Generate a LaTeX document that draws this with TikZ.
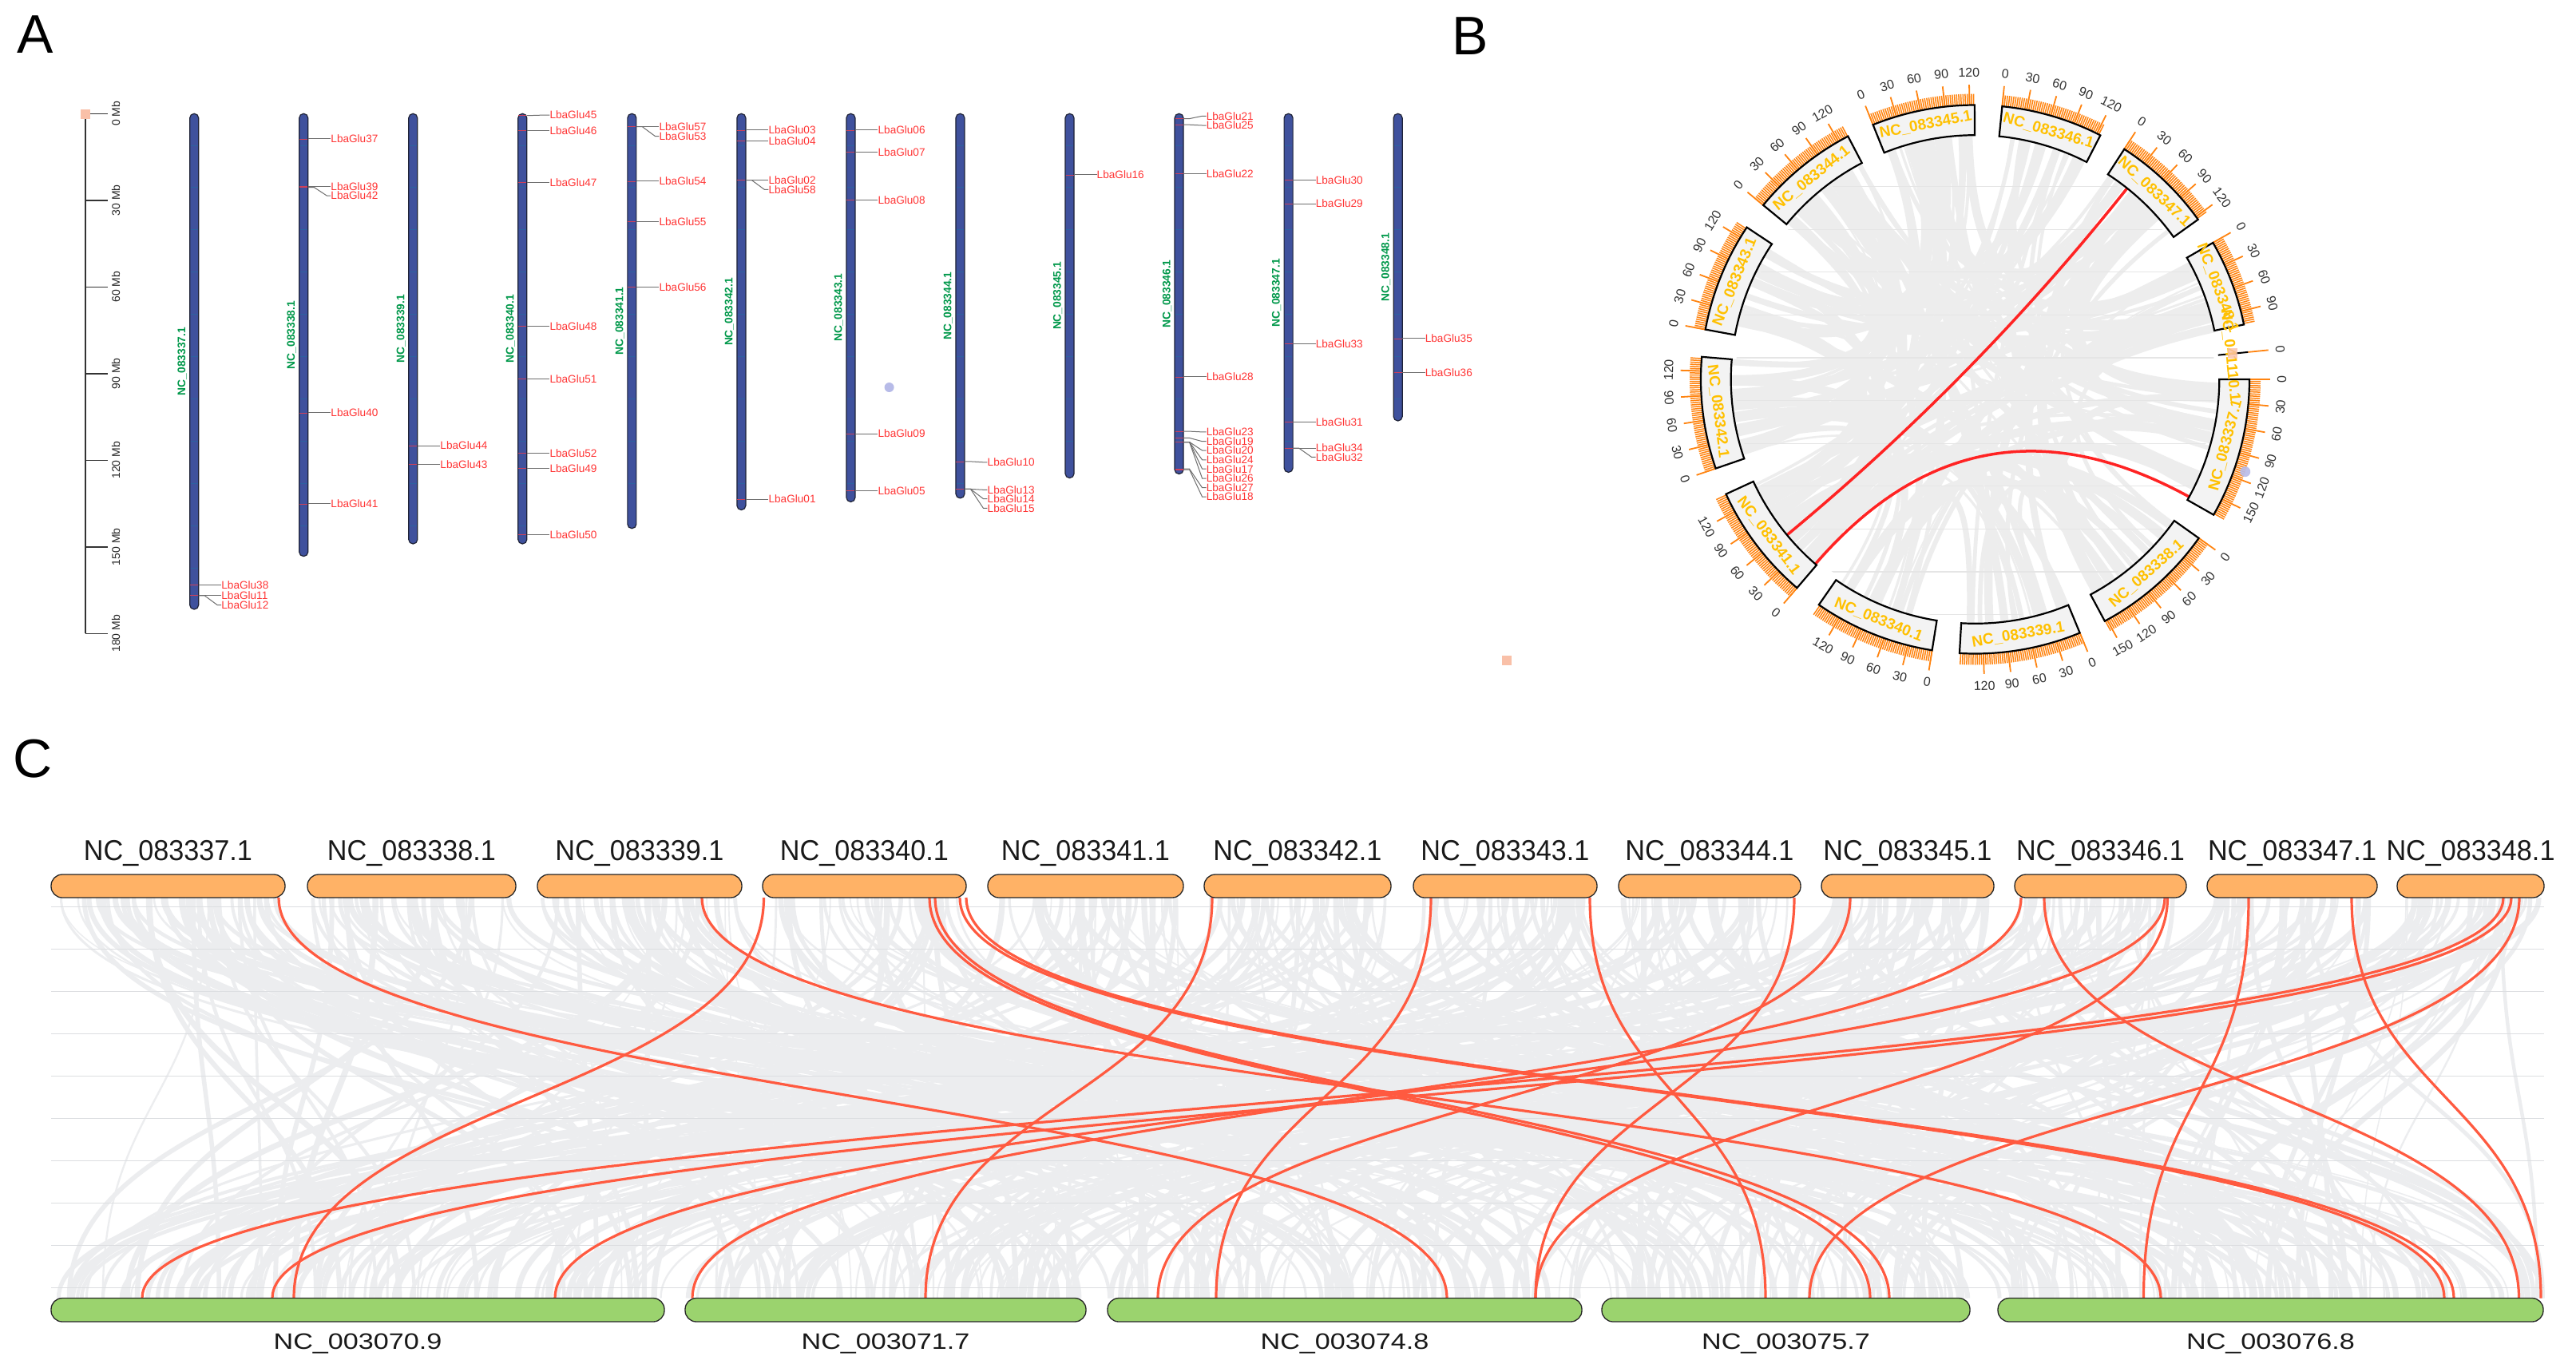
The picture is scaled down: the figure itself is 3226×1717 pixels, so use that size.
\documentclass[tikz,border=0pt]{standalone}
\usepackage{fontspec}
\setmainfont{Liberation Sans}
\usetikzlibrary{calc}
\definecolor{chromblue}{HTML}{3F519D}
\definecolor{chromedge}{HTML}{1E2236}
\definecolor{chromstripe}{HTML}{2C62A0}
\definecolor{chromgreen}{HTML}{00984A}
\definecolor{genered}{HTML}{FF3535}
\definecolor{genetickc}{HTML}{D0405A}
\definecolor{leadgrey}{HTML}{6E6E6E}
\definecolor{salmon}{HTML}{F9C0A8}
\definecolor{lavender}{HTML}{B7BBE8}
\definecolor{blockfill}{HTML}{F3F3F3}
\definecolor{tickorange}{HTML}{FF8410}
\definecolor{lblyellow}{HTML}{FFC000}
\definecolor{linkgrey}{HTML}{EDEDED}
\definecolor{linkred}{HTML}{FF2323}
\definecolor{barorange}{HTML}{FFB266}
\definecolor{bargreen}{HTML}{9BD36E}
\definecolor{ribbongrey}{HTML}{ECEDEF}
\definecolor{synred}{HTML}{FF5A40}
\definecolor{gridgrey}{HTML}{DCDEE1}
\newcommand\pxf[1]{\fontsize{#1}{#1}\selectfont}
\tikzset{
  panelletter/.style={font=\pxf{68}, inner sep=0pt},
  chrom/.style={fill=chromblue, draw=chromedge, line width=1.2pt, rounded corners=5.4pt},
  chromstr/.style={draw=chromstripe, line width=0.8pt},
  chromname/.style={text=chromgreen, font=\pxf{13.8}\bfseries, rotate=90, inner sep=0pt},
  genelbl/.style={text=genered, font=\pxf{13.6}, anchor=west, inner sep=0pt},
  genetick/.style={draw=genetickc, line width=0.8pt},
  leader/.style={draw=leadgrey, line width=1pt},
  scaleline/.style={draw=black!80, line width=1.5pt},
  scalelbl/.style={font=\pxf{14}, rotate=90, inner sep=0pt, text=black!85},
  cblock/.style={fill=blockfill, draw=black, line width=2.2pt, line join=miter},
  ctick/.style={draw=tickorange, line width=1.5pt},
  ctickmaj/.style={draw=tickorange, line width=1.8pt},
  ticklbl/.style={font=\pxf{16}, text=black!80, inner sep=0pt},
  blocklbl/.style={font=\pxf{19}\bfseries, text=lblyellow, inner sep=0pt},
  glink/.style={draw=linkgrey},
  rlink/.style={draw=linkred, line width=3.5pt},
  bgrid/.style={draw=black!10, line width=1.2pt},
  topbar/.style={fill=barorange, draw=black!85, line width=1.3pt, rounded corners=14pt},
  botbar/.style={fill=bargreen, draw=black!85, line width=1.3pt, rounded corners=14pt},
  toplbl/.style={font=\pxf{36}, xscale=0.95, inner sep=0pt, text=black!90},
  botlbl/.style={font=\pxf{28}, xscale=1.22, inner sep=0pt, text=black!90},
  ribbon/.style={draw=ribbongrey},
  synline/.style={draw=synred, line width=3.2pt},
  cgrid/.style={draw=gridgrey, line width=1.2pt}
}
\begin{document}
\begin{tikzpicture}[x=1pt,y=-1pt]
\useasboundingbox (0,0) rectangle (3226,1717);
\fill[white] (0,0) rectangle (3226,1717);
\pgfmathsetseed{20240}

% ---------------- Panel letters
\node[panelletter] (lA) at (43.7,43.3) {A};
\node[panelletter] (lB) at (1841,45) {B};
\node[panelletter] (lC) at (41,950) {C};

% ---------------- Panel A : scale bar
\draw[scaleline] (107,142.3) -- (107,793.3);
\foreach \k in {0,...,6}{
  \pgfmathsetmacro\ty{142.3+108.5*\k}
  \pgfmathtruncatemacro\mbv{30*\k}
  \draw[scaleline] (107,\ty) -- (135,\ty);
  \node[scalelbl] (sc\k) at (145,\ty) {\mbv{} Mb};
}
\fill[salmon] (101,137) rectangle (113,149);

% ---------------- Panel A : chromosomes
\foreach \i/\cbot/\nm in {1/763/NC\_083337.1,2/696.6/NC\_083338.1,3/681/NC\_083339.1,4/681/NC\_083340.1,5/661.7/NC\_083341.1,6/638.5/NC\_083342.1,7/628.4/NC\_083343.1,8/623.8/NC\_083344.1,9/598.5/NC\_083345.1,10/593.5/NC\_083346.1,11/591.4/NC\_083347.1,12/527/NC\_083348.1}{
  \pgfmathsetmacro\x{243.2+137.04*(\i-1)}
  \pgfmathsetmacro\cmid{(142.3+\cbot)/2}
  \pgfmathtruncatemacro\n{(\cbot-190)/52.9}
  \draw[chrom] (\x-5.5,142.3) rectangle (\x+5.5,\cbot);
  \foreach \k in {0,...,\n}{
    \pgfmathsetmacro\sy{181.9+52.9*\k}
    \draw[chromstr] (\x-4.6,\sy) -- (\x+4.6,\sy);
  }
  \node[chromname] (cn\i) at (\x-15,\cmid) {\nm};
}
\foreach \c/\gy/\ly/\g in {1/732.4/732.4/38,1/745.8/745.8/11,1/745.8/757.6/12,
  2/173.9/173.9/37,2/233.2/233.2/39,2/234.5/245/42,2/516.9/516.9/40,2/630.9/630.9/41,
  3/558.1/558.1/44,3/581.3/581.3/43,
  4/144.5/144/45,4/163.4/163.4/46,4/228.2/228.2/47,4/408.3/408.3/48,4/474.8/474.8/51,4/567.8/567.8/52,4/586.3/586.3/49,4/669.2/669.2/50,
  5/158.7/158.7/57,5/158.7/170.5/53,5/226.9/226.9/54,5/277.8/277.8/55,5/359.5/359.5/56,
  6/162.9/162.9/03,6/176.4/176.4/04,6/225.6/225.6/02,6/225.6/237.4/58,6/625/625/01,
  7/162.9/162.9/06,7/190.3/190.3/07,7/250.5/250.5/08,7/543/543/09,7/614.5/614.5/05,
  8/577.9/578.8/10,8/612.4/613.3/13,8/612.4/624.6/14,8/612.4/636.4/15,
  9/218.9/218.9/16,
  10/148.6/145.3/21,10/156.2/157/25,10/217.6/217.6/22,10/471.9/471.9/28,10/540.1/540.9/23,10/548.4/552.7/19,10/553.5/564/20,10/553.5/575.8/24,10/553.5/587.2/17,10/553.5/599/26,10/587.2/610.7/27,10/588/622.1/18,
  11/225.2/225.2/30,11/255.1/255.1/29,11/430.2/430.2/33,11/528.2/528.2/31,11/561.1/561.1/34,11/561.1/572.4/32,
  12/423.9/423.9/35,12/466.4/466.4/36}{
  \pgfmathsetmacro\x{243.2+137.04*(\c-1)}
  \draw[genetick] (\x-5,\gy) -- (\x+5,\gy);
  \draw[leader] (\x+5.5,\gy) -- (\x+13,\gy) -- (\x+29,\ly) -- (\x+34,\ly);
  \node[genelbl] (g\g) at (\x+34,\ly) {LbaGlu\g};
}
\fill[lavender] (1113.6,485) circle[radius=6];

% ---------------- Panel B : circos
\def\Rin{305.8}\def\Rout{343.5}\def\Rt{357.5}\def\Rmaj{369}\def\Rlab{384}\def\Rlbl{324.6}\def\Rc{101.93}
\def\chS{{0,35.37,67.56,99.03,130.50,161.04,190.47,219.42,248.14,275.66,302.94,330.13}}
\def\chLen{{29.60,26.43,25.70,25.70,24.77,23.67,23.18,22.96,21.75,21.51,21.42,18.35}}
\begin{scope}[shift={(2473.5,475)}]
  % grey links
  \foreach \i in {1,...,150}{
    \pgfmathtruncatemacro\ca{random(0,11)}
    \pgfmathtruncatemacro\cb{random(0,11)}
    \pgfmathtruncatemacro\cb{ifthenelse(\cb==\ca,mod(\ca+5,12),\cb)}
    \pgfmathsetmacro\ta{\chS[\ca]+0.5+rnd*(\chLen[\ca]-1)}
    \pgfmathsetmacro\tb{\chS[\cb]+0.5+rnd*(\chLen[\cb]-1)}
    \pgfmathsetmacro\w{2+rnd*9}
    \draw[glink, line width=\w pt] (\ta:\Rin) .. controls (\ta:\Rc) and (\tb:\Rc) .. (\tb:\Rin);
  }
  \begin{scope}
    \clip (0,0) circle[radius=300];
    \foreach \k in {0,...,10}{
      \pgfmathsetmacro\gy{233.5+53.6*\k-475}
      \draw[bgrid] (-360,\gy) -- (360,\gy);
    }
  \end{scope}
  % red links
  \coordinate (ra1) at (308.5:\Rin);
  \coordinate (rb1) at (140.4:\Rin);
  \coordinate (ra2) at (130.86:\Rin);
  \coordinate (rb2) at (28.76:\Rin);
  \draw[rlink] (ra1) .. controls (308.5:\Rc) and (140.4:\Rc) .. (rb1);
  \draw[rlink] (ra2) .. controls (130.86:\Rc) and (28.76:\Rc) .. (rb2);
  % blocks, ticks, labels
  \foreach \s/\clen/\nm [count=\ci] in {0/171.6/NC\_083337.1,35.37/153.2/NC\_083338.1,67.56/149/NC\_083339.1,99.03/149/NC\_083340.1,130.50/143.6/NC\_083341.1,161.04/137.2/NC\_083342.1,190.47/134.4/NC\_083343.1,219.42/133.1/NC\_083344.1,248.14/126.1/NC\_083345.1,275.66/124.7/NC\_083346.1,302.94/124.2/NC\_083347.1,330.13/106.4/NC\_083348.1}{
    \pgfmathsetmacro\e{\s+0.1725*\clen}
    \pgfmathsetmacro\cm{\s+0.08625*\clen}
    \foreach \m in {0,2.5,...,\clen}{
      \pgfmathsetmacro\ang{\s+0.1725*\m}
      \draw[ctick] (\ang:\Rout) -- (\ang:\Rt);
    }
    \foreach \m in {0,30,...,\clen}{
      \pgfmathsetmacro\ang{\s+0.1725*\m}
      \pgfmathsetmacro\rot{ifthenelse(\ang<180,90-\ang,-\ang-90)}
      \pgfmathtruncatemacro\mm{\m}
      \draw[ctickmaj] (\ang:\Rout) -- (\ang:\Rmaj);
      \node[ticklbl, rotate=\rot] (tk\ci-\mm) at (\ang:\Rlab) {\mm};
    }
    \filldraw[cblock] plot[domain=\s:\e, samples=30] (\x:\Rout) -- plot[domain=\e:\s, samples=30] (\x:\Rin) -- cycle;
    \pgfmathsetmacro\rot{ifthenelse(\cm<180,90-\cm,-\cm-90)}
    \node[blocklbl, rotate=\rot] (bl\ci) at (\cm:\Rlbl) {\nm};
  }
  % tiny chromosome NC_041110.1
  \draw[ctickmaj] (354.3:\Rout) -- (354.3:\Rmaj);
  \draw[black, line width=2pt] (354.3:\Rin) -- (354.3:\Rout);
  \node[ticklbl, rotate=-84.3] (tk13) at (354.3:\Rlab) {0};
  \node[blocklbl, rotate=-84.3] (bl13) at (354.6:321) {NC\_041110.1};
\end{scope}
\fill[salmon, opacity=0.8] (2790,436) rectangle (2802,449);
\fill[lavender, opacity=0.9] (2811.7,590.6) circle[radius=6.5];
\fill[salmon] (1881,821) rectangle (1893,833);

% ---------------- Panel C : synteny
\def\tL{{64,385,673,955,1237,1508,1770,2027,2281,2523,2764,3002}}
\def\tW{{293,261,256,255,245,234,230,228,216,215,213,184}}
\foreach \i in {1,...,480}{
  \pgfmathtruncatemacro\ti{random(0,11)}
  \pgfmathsetmacro\xa{\tL[\ti]+6+rnd*(\tW[\ti]-12)}
  \pgfmathsetmacro\uu{rnd*3008}
  \pgfmathsetmacro\xb{ifthenelse(\uu<768,64+\uu,ifthenelse(\uu<1270,858+\uu-768,ifthenelse(\uu<1864,1387+\uu-1270,ifthenelse(\uu<2325,2006+\uu-1864,2502+\uu-2325))))}
  \pgfmathsetmacro\w{1.5+rnd*6}
  \draw[ribbon, line width=\w pt] (\xa,1124) .. controls (\xa,1375) and (\xb,1375) .. (\xb,1625.5);
}
\foreach \k in {0,...,9}{
  \pgfmathsetmacro\gy{1135.4+53*\k}
  \draw[cgrid] (64,\gy) -- (3186,\gy);
}
\foreach \xa/\xb in {349/1812,879/2706,956.5/368,1164/2342,1171/2366,1202/3061,1210/3073,1518/1159,1792/1523,1991/2211,2247/1923,2317/1450,2531/867,2560/3154.5,2711/695,2714.5/1923,2816/2684.5,2945/3182,3135/178,3145/341,3155/2266}{
  \draw[synline] (\xa,1124) .. controls (\xa,1375) and (\xb,1375) .. (\xb,1625.5);
}
% top bars and labels
\foreach \l/\r/\nm [count=\ci] in {64/357/NC\_083337.1,385/646/NC\_083338.1,673/929/NC\_083339.1,955/1210/NC\_083340.1,1237/1482/NC\_083341.1,1508/1742/NC\_083342.1,1770/2000/NC\_083343.1,2027/2255/NC\_083344.1,2281/2497/NC\_083345.1,2523/2738/NC\_083346.1,2764/2977/NC\_083347.1,3002/3186/NC\_083348.1}{
  \draw[topbar] (\l,1095) rectangle (\r,1124);
  \node[toplbl] (tl\ci) at ({(\l+\r)/2},1068) {\nm};
}
\foreach \l/\r/\nm [count=\ci] in {64/832/NC\_003070.9,858/1360/NC\_003071.7,1387/1981/NC\_003074.8,2006/2467/NC\_003075.7,2502/3185/NC\_003076.8}{
  \draw[botbar] (\l,1625.5) rectangle (\r,1655);
  \node[botlbl] (bt\ci) at ({(\l+\r)/2},1682) {\nm};
}
\end{tikzpicture}
\end{document}
